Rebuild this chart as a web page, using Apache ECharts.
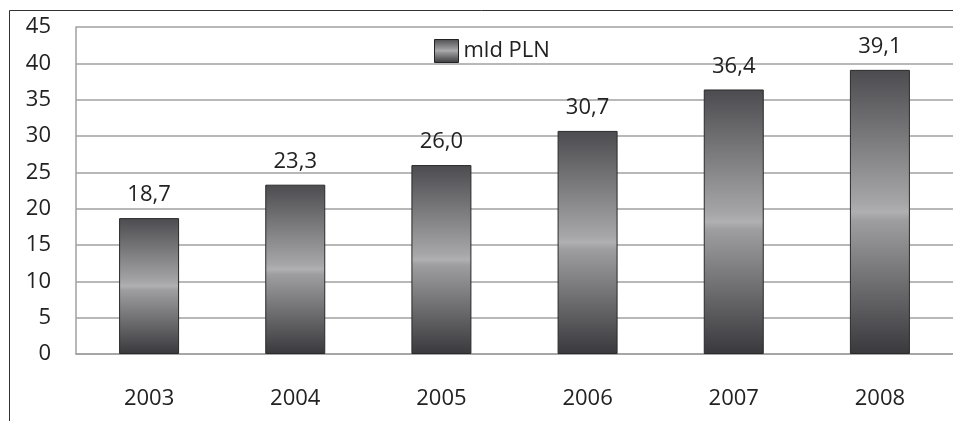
<!DOCTYPE html>
<html>
<head>
<meta charset="utf-8">
<script src="https://cdn.jsdelivr.net/npm/echarts@6/dist/echarts.min.js"></script>
<style>
  html, body { margin: 0; padding: 0; background: #fff; }
  #chart { width: 953px; height: 421px; }
</style>
</head>
<body>
<div id="chart"></div>
<script>
// data
const years = ['2003', '2004', '2005', '2006', '2007', '2008']
const values = [18.7, 23.3, 26.0, 30.7, 36.4, 39.1]
const seriesName = 'mld PLN'

const font = 'Open Sans'
const barFill = new echarts.graphic.LinearGradient(0, 0, 0, 1, [
  { offset: 0, color: '#4c4b4f' },
  { offset: 0.47, color: '#a6a6a8' },
  { offset: 0.5, color: '#b0b0b2' },
  { offset: 0.53, color: '#9e9ea0' },
  { offset: 1, color: '#39383c' }
])

const chart = echarts.init(document.getElementById('chart'))
chart.setOption({
  animation: false,
  textStyle: { fontFamily: font },
  graphic: [{
    type: 'rect',
    shape: { x: 9.5, y: 10.5, width: 980, height: 440 },
    style: { fill: 'none', stroke: '#333', lineWidth: 1 },
    silent: true
  }],
  legend: {
    left: 429,
    top: 34,
    itemWidth: 24,
    itemHeight: 23,
    itemGap: 5,
    icon: 'rect',
    textStyle: { fontFamily: font, fontSize: 22, color: '#222' },
    data: [{ name: seriesName, itemStyle: { color: barFill, borderColor: '#222', borderWidth: 1 } }]
  },
  grid: { left: 76, right: 0, top: 27, bottom: 67 },
  xAxis: {
    type: 'category',
    data: years,
    axisLine: { lineStyle: { color: '#a0a0a0', width: 1.5 } },
    axisTick: { show: false },
    axisLabel: { fontFamily: font, fontSize: 22, color: '#222', margin: 34 }
  },
  yAxis: {
    type: 'value',
    min: 0,
    max: 45,
    interval: 5,
    axisLine: { show: true, lineStyle: { color: '#a0a0a0', width: 1.5 } },
    axisTick: { show: false },
    splitLine: { lineStyle: { color: '#a0a0a0', width: 1.5 } },
    axisLabel: { fontFamily: font, fontSize: 22, color: '#222', margin: 25 }
  },
  series: [{
    name: seriesName,
    type: 'bar',
    data: values,
    barWidth: 60,
    itemStyle: { color: barFill, borderColor: '#2a2a2a', borderWidth: 1 },
    label: {
      show: true,
      position: 'top',
      distance: 12,
      fontFamily: font,
      fontSize: 22,
      color: '#222',
      formatter: p => p.value.toFixed(1).replace('.', ',')
    }
  }]
})
</script>
</body>
</html>
